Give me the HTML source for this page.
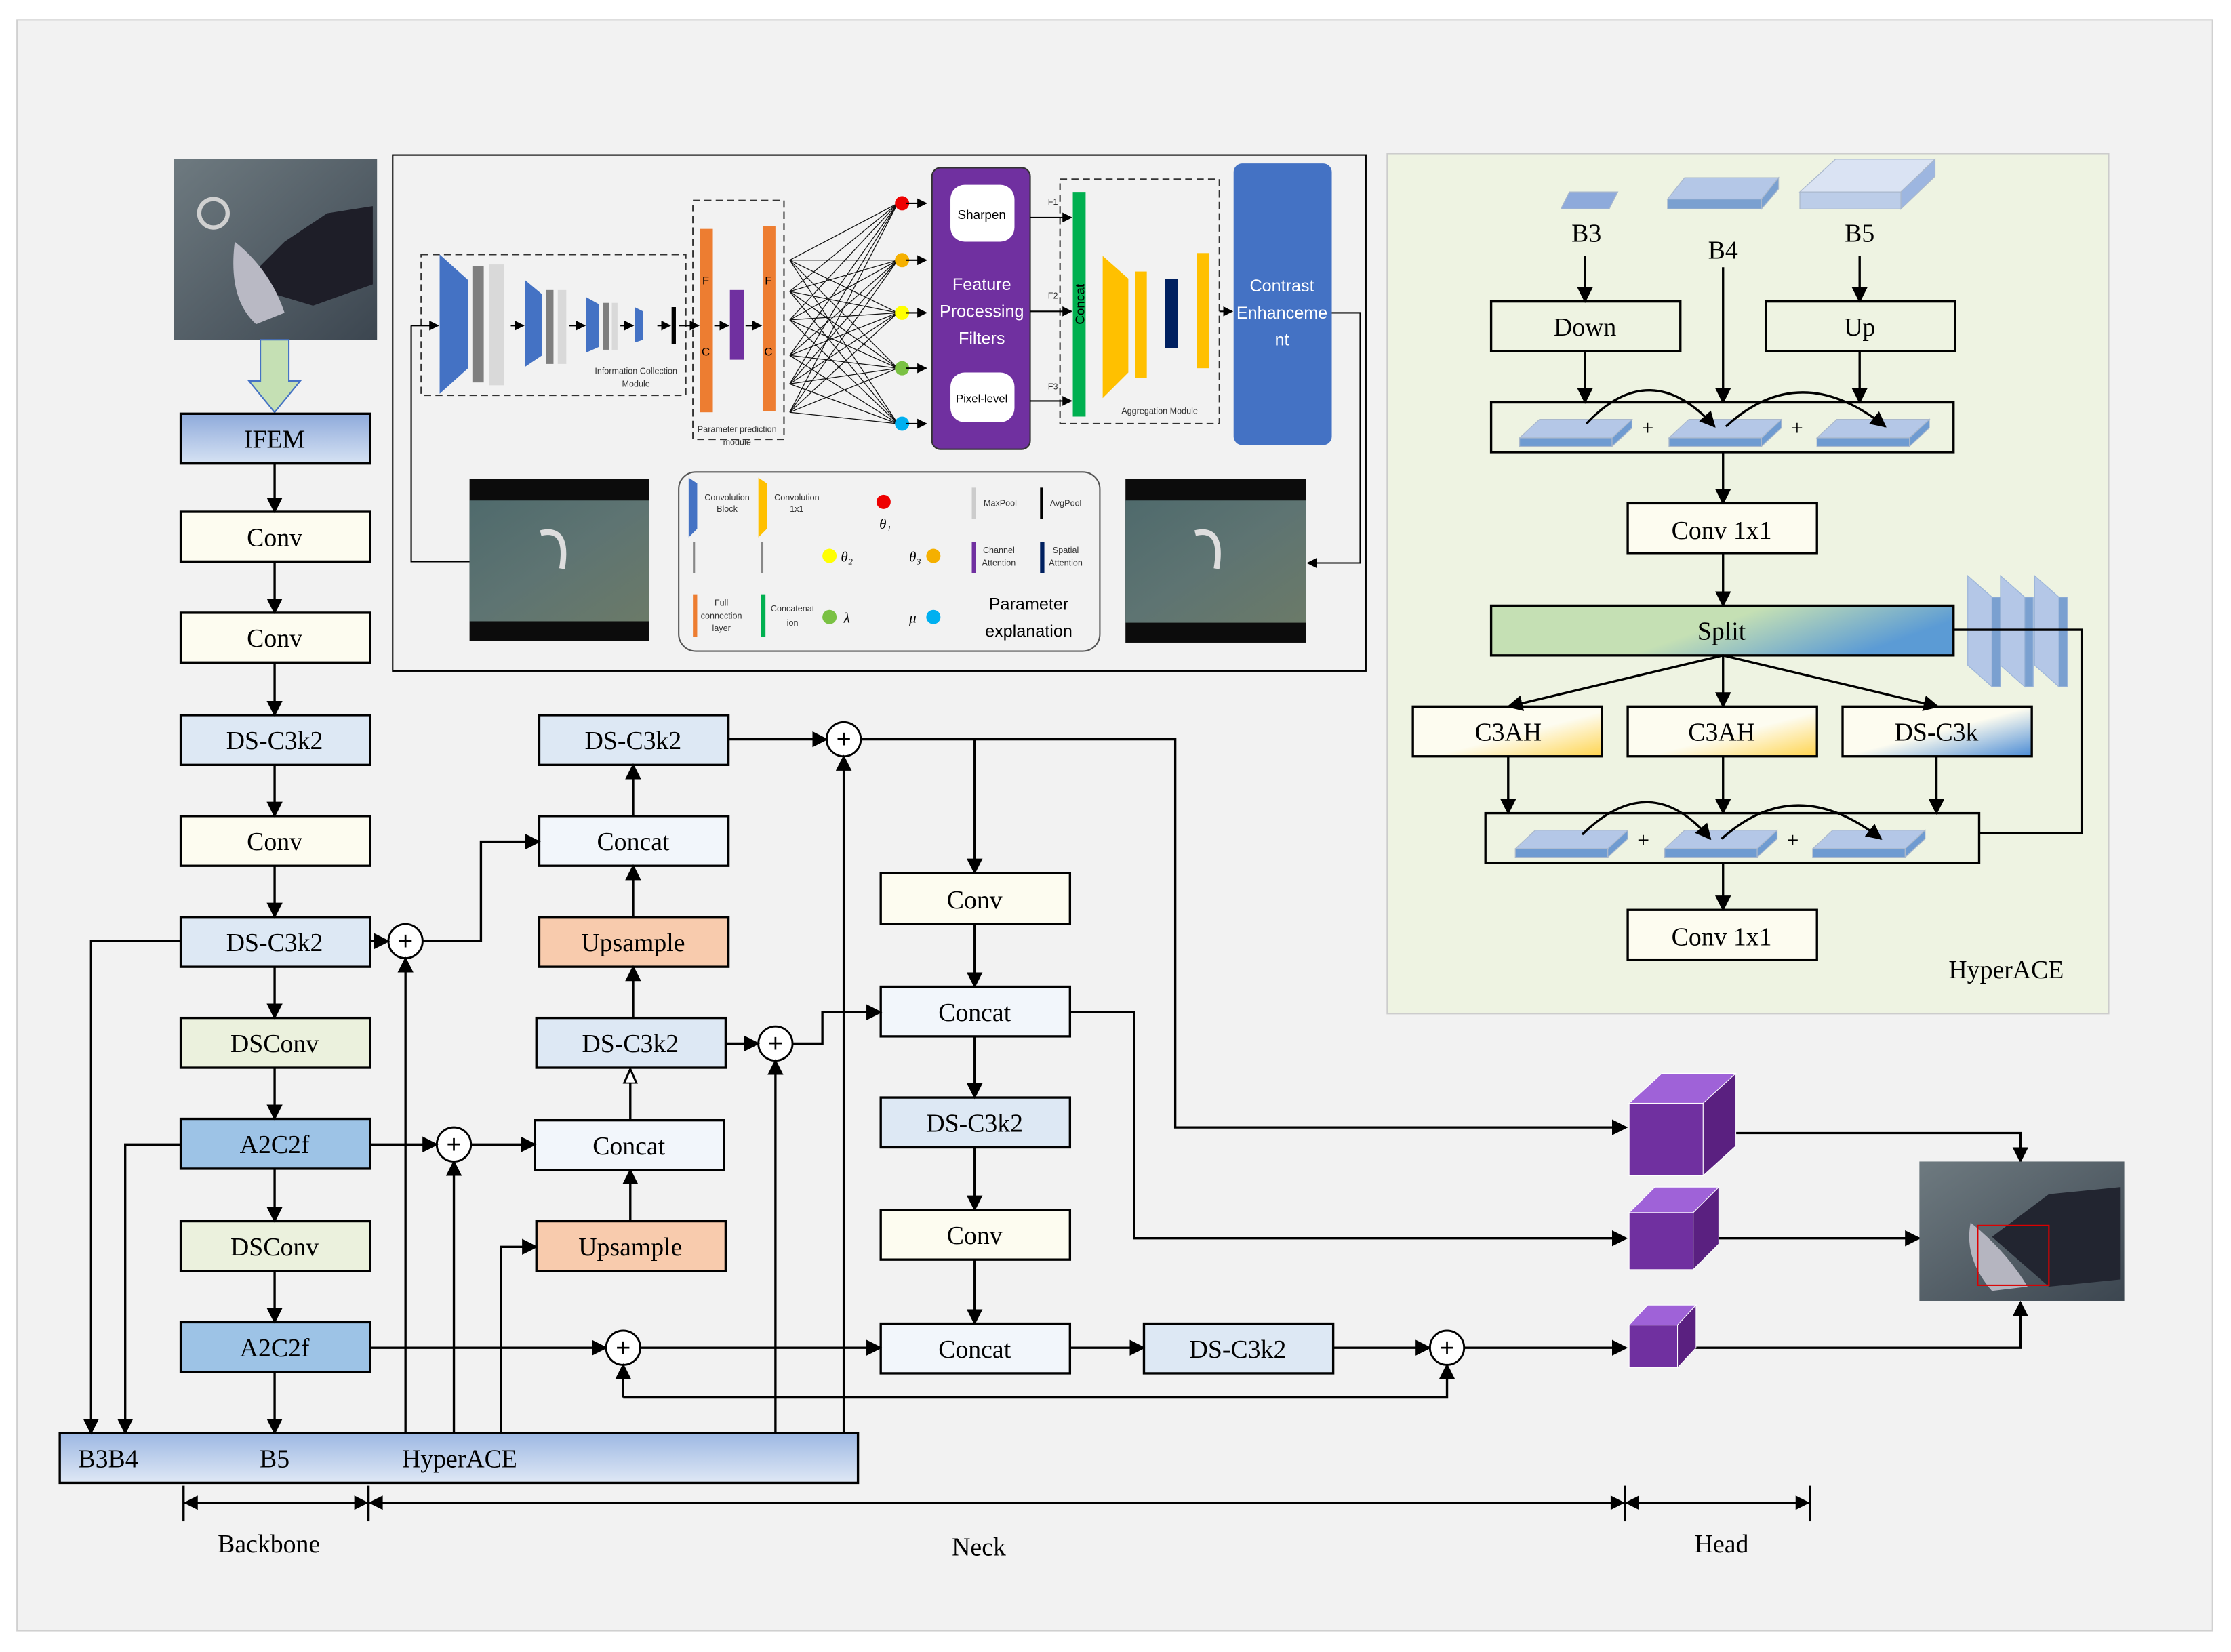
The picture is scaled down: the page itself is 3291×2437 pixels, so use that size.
<!DOCTYPE html>
<html><head><meta charset="utf-8"><style>
html,body{margin:0;padding:0;background:#fff}
svg{display:block}
text{font-family:"Liberation Serif",serif}
.s{font-family:"Liberation Sans",sans-serif}
</style></head><body>
<svg width="3291" height="2437" viewBox="0 0 1568 1162" preserveAspectRatio="none" xmlns="http://www.w3.org/2000/svg">
<defs>
<marker id="a" viewBox="0 0 10 10" refX="9" refY="5" markerWidth="7" markerHeight="7" orient="auto-start-reverse"><path d="M0,0L10,5L0,10z" fill="#000"/></marker>
<marker id="h" viewBox="0 0 10 10" refX="9" refY="5" markerWidth="7" markerHeight="7" orient="auto"><path d="M0,1L9,5L0,9z" fill="#fff" stroke="#000" stroke-width="1.3"/></marker>
<linearGradient id="gIFEM" x1="0" y1="0" x2="0" y2="1"><stop offset="0" stop-color="#8eaadb"/><stop offset="1" stop-color="#d6e2f3"/></linearGradient>
<linearGradient id="gBar" x1="0" y1="0" x2="0" y2="1"><stop offset="0" stop-color="#9db8e3"/><stop offset="1" stop-color="#dfe8f5"/></linearGradient>
<linearGradient id="gSplit" x1="0" y1="0" x2="1" y2="0.3"><stop offset="0" stop-color="#c5e0b4"/><stop offset="0.55" stop-color="#c5e0b4"/><stop offset="1" stop-color="#5b9bd5"/></linearGradient>
<linearGradient id="gY" x1="0" y1="0" x2="1" y2="1"><stop offset="0" stop-color="#fdfcf0"/><stop offset="0.55" stop-color="#fdfcf0"/><stop offset="1" stop-color="#ffd44f"/></linearGradient>
<linearGradient id="gB" x1="0" y1="0" x2="1" y2="1"><stop offset="0" stop-color="#fdfcf0"/><stop offset="0.5" stop-color="#fdfcf0"/><stop offset="1" stop-color="#4a8bd5"/></linearGradient>
<linearGradient id="gImg" x1="0" y1="0" x2="1" y2="1"><stop offset="0" stop-color="#4f6a6c"/><stop offset="0.5" stop-color="#5e7472"/><stop offset="1" stop-color="#6b7a68"/></linearGradient>
<linearGradient id="gImg2" x1="0" y1="0" x2="1" y2="1"><stop offset="0" stop-color="#6e7a80"/><stop offset="1" stop-color="#3c4650"/></linearGradient>
</defs>
<rect x="12" y="14" width="1543" height="1133" fill="#f2f2f2" stroke="#d0d0d0"/>

<!-- top-left image -->
<rect x="122" y="112" width="143" height="127" fill="url(#gImg2)"/>
<path d="M170 200 L200 170 L230 150 L262 145 L262 200 L220 215 Z" fill="#1e1e28"/>
<path d="M165 170 Q190 190 200 220 L180 228 Q160 210 165 170Z" fill="#b9b9c4"/>
<circle cx="150" cy="150" r="10" fill="none" stroke="#d0d0d0" stroke-width="3"/>
<!-- green arrow -->
<path d="M183 239 L203 239 L203 268 L211 268 L193 290 L175 268 L183 268 Z" fill="#c5e0b4" stroke="#4472c4" stroke-width="1"/>

<g stroke="#000" stroke-width="1.6">
<rect x="127" y="291" width="133" height="35" fill="url(#gIFEM)"/>
<rect x="127" y="360" width="133" height="35" fill="#fdfcf0"/>
<rect x="127" y="431" width="133" height="35" fill="#fdfcf0"/>
<rect x="127" y="503" width="133" height="35" fill="#dde8f4"/>
<rect x="127" y="574" width="133" height="35" fill="#fdfcf0"/>
<rect x="127" y="645" width="133" height="35" fill="#dde8f4"/>
<rect x="127" y="716" width="133" height="35" fill="#ebf1dd"/>
<rect x="127" y="787" width="133" height="35" fill="#9dc3e6"/>
<rect x="127" y="859" width="133" height="35" fill="#ebf1dd"/>
<rect x="127" y="930" width="133" height="35" fill="#9dc3e6"/>
<rect x="42" y="1008" width="561" height="35" fill="url(#gBar)"/>

<rect x="379" y="503" width="133" height="35" fill="#dde8f4"/>
<rect x="379" y="574" width="133" height="35" fill="#f2f6fb"/>
<rect x="379" y="645" width="133" height="35" fill="#f8cbad"/>
<rect x="377" y="716" width="133" height="35" fill="#dde8f4"/>
<rect x="376" y="788" width="133" height="35" fill="#f2f6fb"/>
<rect x="377" y="859" width="133" height="35" fill="#f8cbad"/>

<rect x="619" y="614" width="133" height="36" fill="#fdfcf0"/>
<rect x="619" y="694" width="133" height="35" fill="#f2f6fb"/>
<rect x="619" y="772" width="133" height="35" fill="#dde8f4"/>
<rect x="619" y="851" width="133" height="35" fill="#fdfcf0"/>
<rect x="619" y="931" width="133" height="35" fill="#f2f6fb"/>
<rect x="804" y="931" width="133" height="35" fill="#dde8f4"/>
</g>
<g font-size="18" text-anchor="middle">
<text x="193" y="315">IFEM</text>
<text x="193" y="384">Conv</text>
<text x="193" y="455">Conv</text>
<text x="193" y="527">DS-C3k2</text>
<text x="193" y="598">Conv</text>
<text x="193" y="669">DS-C3k2</text>
<text x="193" y="740">DSConv</text>
<text x="193" y="811">A2C2f</text>
<text x="193" y="883">DSConv</text>
<text x="193" y="954">A2C2f</text>
<text x="76" y="1032">B3B4</text>
<text x="193" y="1032">B5</text>
<text x="323" y="1032">HyperACE</text>
<text x="445" y="527">DS-C3k2</text>
<text x="445" y="598">Concat</text>
<text x="445" y="669">Upsample</text>
<text x="443" y="740">DS-C3k2</text>
<text x="442" y="812">Concat</text>
<text x="443" y="883">Upsample</text>
<text x="685" y="639">Conv</text>
<text x="685" y="718">Concat</text>
<text x="685" y="796">DS-C3k2</text>
<text x="685" y="875">Conv</text>
<text x="685" y="955">Concat</text>
<text x="870" y="955">DS-C3k2</text>
<text x="189" y="1092">Backbone</text>
<text x="688" y="1094">Neck</text>
<text x="1210" y="1092">Head</text>
</g>

<!-- plus circles -->
<g stroke="#000" stroke-width="1.4" fill="#fff">
<circle cx="285" cy="662" r="12"/><circle cx="319" cy="805" r="12"/><circle cx="545" cy="734" r="12"/>
<circle cx="593" cy="520" r="12"/><circle cx="438" cy="948" r="12"/><circle cx="1017" cy="948" r="12"/>
</g>
<g font-size="18" text-anchor="middle" font-family="Liberation Sans">
<text x="285" y="668" class="s">+</text><text x="319" y="811" class="s">+</text><text x="545" y="740" class="s">+</text>
<text x="593" y="526" class="s">+</text><text x="438" y="954" class="s">+</text><text x="1017" y="954" class="s">+</text>
</g>

<g stroke="#000" stroke-width="1.6" fill="none" marker-end="url(#a)">
<line x1="193" y1="326" x2="193" y2="360"/>
<line x1="193" y1="395" x2="193" y2="431"/>
<line x1="193" y1="466" x2="193" y2="503"/>
<line x1="193" y1="538" x2="193" y2="574"/>
<line x1="193" y1="609" x2="193" y2="645"/>
<line x1="193" y1="680" x2="193" y2="716"/>
<line x1="193" y1="751" x2="193" y2="787"/>
<line x1="193" y1="822" x2="193" y2="859"/>
<line x1="193" y1="894" x2="193" y2="930"/>
<line x1="193" y1="965" x2="193" y2="1008"/>
<polyline points="127,662 64,662 64,1008"/>
<polyline points="127,805 88,805 88,1008"/>
<line x1="260" y1="662" x2="273" y2="662"/>
<line x1="260" y1="805" x2="307" y2="805"/>
<line x1="260" y1="948" x2="426" y2="948"/>
<polyline points="297,662 338,662 338,592 379,592"/>
<line x1="331" y1="805" x2="376" y2="805"/>
<line x1="285" y1="1008" x2="285" y2="674"/>
<line x1="319" y1="1008" x2="319" y2="817"/>
<polyline points="352,1008 352,877 377,877"/>
<line x1="545" y1="1008" x2="545" y2="746"/>
<line x1="593" y1="1008" x2="593" y2="532"/>
<line x1="438" y1="983" x2="438" y2="960"/>
<polyline points="438,983 1017,983 1017,960"/>
<line x1="443" y1="859" x2="443" y2="823"/>
<line x1="445" y1="645" x2="445" y2="609"/>
<line x1="445" y1="574" x2="445" y2="538"/>
<line x1="445" y1="716" x2="445" y2="680"/>
<line x1="512" y1="520" x2="581" y2="520"/>
<line x1="510" y1="734" x2="533" y2="734"/>
<polyline points="557,734 578,734 578,712 619,712"/>
<polyline points="605,520 826,520 826,793 1143,793"/>
<polyline points="685,520 685,614"/>
<line x1="685" y1="650" x2="685" y2="694"/>
<line x1="685" y1="729" x2="685" y2="772"/>
<line x1="685" y1="807" x2="685" y2="851"/>
<line x1="685" y1="886" x2="685" y2="931"/>
<line x1="450" y1="948" x2="619" y2="948"/>
<line x1="752" y1="948" x2="804" y2="948"/>
<line x1="937" y1="948" x2="1005" y2="948"/>
<line x1="1029" y1="948" x2="1143" y2="948"/>
<polyline points="752,712 797,712 797,871 1143,871"/>
<polyline points="1218,797 1420,797 1420,817"/>
<line x1="1206" y1="871" x2="1349" y2="871"/>
<polyline points="1190,948 1420,948 1420,916"/>
</g>
<line x1="443" y1="788" x2="443" y2="752" stroke="#000" stroke-width="1.6" marker-end="url(#h)"/>

<!-- scale line -->
<g stroke="#000" stroke-width="1.6">
<line x1="129" y1="1057" x2="1272" y2="1057"/>
<line x1="129" y1="1045" x2="129" y2="1070"/><line x1="259" y1="1045" x2="259" y2="1070"/>
<line x1="1142" y1="1045" x2="1142" y2="1070"/><line x1="1272" y1="1045" x2="1272" y2="1070"/>
</g>
<g fill="#000"><path d="M129 1057l10-5v10z"/><path d="M259 1057l-10-5v10z"/><path d="M259 1057l10-5v10z"/><path d="M1142 1057l-10-5v10z"/><path d="M1142 1057l10-5v10z"/><path d="M1272 1057l-10-5v10z"/></g>

<!-- cubes -->
<g stroke="#fff" stroke-width="0.5">
<path d="M1145 776 L1168 755 L1220 755 L1197 776Z" fill="#9f62d8"/><rect x="1145" y="776" width="52" height="51" fill="#7030a0"/><path d="M1197 776 L1220 755 L1220 806 L1197 827Z" fill="#5a2080"/>
<path d="M1145 853 L1163 835 L1208 835 L1190 853Z" fill="#9f62d8"/><rect x="1145" y="853" width="45" height="40" fill="#7030a0"/><path d="M1190 853 L1208 835 L1208 875 L1190 893Z" fill="#5a2080"/>
<path d="M1145 932 L1158 918 L1192 918 L1179 932Z" fill="#9f62d8"/><rect x="1145" y="932" width="34" height="30" fill="#7030a0"/><path d="M1179 932 L1192 918 L1192 948 L1179 962Z" fill="#5a2080"/>
</g>
<!-- output image -->
<rect x="1349" y="817" width="144" height="98" fill="url(#gImg2)"/>
<path d="M1400 870 L1440 840 L1490 835 L1490 900 L1440 905Z" fill="#222530"/>
<path d="M1385 860 Q1410 880 1425 905 L1400 908 Q1380 885 1385 860Z" fill="#b5b5c0"/>
<rect x="1390" y="862" width="50" height="42" fill="none" stroke="#d00" stroke-width="1"/>

<!-- top center panel -->
<rect x="276" y="109" width="684" height="363" fill="#f2f2f2" stroke="#000" stroke-width="1"/>
<g stroke="#333" stroke-width="1" stroke-dasharray="5,3" fill="none">
<rect x="296" y="179" width="186" height="99"/><rect x="487" y="141" width="64" height="168"/><rect x="745" y="126" width="112" height="172"/>
</g>
<g fill="#4472c4">
<path d="M309 179 L329 197 L329 259 L309 277Z"/><path d="M369 197 L381 207 L381 250 L369 258Z"/><path d="M412 209 L421 214 L421 244 L412 248Z"/><path d="M446 216 L452 219 L452 239 L446 241Z"/>
</g>
<g fill="#7f7f7f"><rect x="332" y="187" width="8" height="82"/><rect x="384" y="204" width="5" height="52"/><rect x="424" y="213" width="4" height="33"/></g>
<g fill="#d9d9d9"><rect x="344" y="186" width="10" height="85"/><rect x="392" y="204" width="6" height="52"/><rect x="430" y="213" width="4" height="33"/></g>
<rect x="472" y="216" width="3" height="26" fill="#000"/>
<g stroke="#000" stroke-width="1" fill="none" marker-end="url(#a)">
<line x1="289" y1="229" x2="308" y2="229"/><line x1="359" y1="229" x2="368" y2="229"/><line x1="400" y1="229" x2="411" y2="229"/><line x1="436" y1="229" x2="445" y2="229"/><line x1="462" y1="229" x2="471" y2="229"/>
<line x1="477" y1="229" x2="491" y2="229"/><line x1="502" y1="229" x2="512" y2="229"/><line x1="524" y1="229" x2="535" y2="229"/>
</g>
<rect x="492" y="161" width="9" height="129" fill="#ed7d31"/><rect x="536" y="159" width="9" height="130" fill="#ed7d31"/><rect x="513" y="204" width="10" height="49" fill="#7030a0"/>
<g font-size="8" class="s" text-anchor="middle"><text x="496" y="200" class="s">F</text><text x="496" y="250" class="s">C</text><text x="540" y="200" class="s">F</text><text x="540" y="250" class="s">C</text></g>
<g font-size="6" class="s" text-anchor="middle" fill="#333">
<text x="447" y="263" class="s">Information Collection</text><text x="447" y="272" class="s">Module</text>
<text x="518" y="304" class="s">Parameter prediction</text><text x="518" y="313" class="s">module</text>
<text x="815" y="291" class="s">Aggregation Module</text>
<text x="740" y="144" class="s">F1</text><text x="740" y="210" class="s">F2</text><text x="740" y="274" class="s">F3</text>
</g>
<g stroke="#111" stroke-width="0.6">
<path d="M555 183L631 143M555 183L631 183M555 183L631 220M555 183L631 259M555 183L631 298M555 205L631 143M555 205L631 183M555 205L631 220M555 205L631 259M555 205L631 298M555 225L631 143M555 225L631 183M555 225L631 220M555 225L631 259M555 225L631 298M555 250L631 143M555 250L631 183M555 250L631 220M555 250L631 259M555 250L631 298M555 270L631 143M555 270L631 183M555 270L631 220M555 270L631 259M555 270L631 298M555 290L631 143M555 290L631 183M555 290L631 220M555 290L631 259M555 290L631 298"/>
</g>
<circle cx="634" cy="143" r="5" fill="#e00"/><circle cx="634" cy="183" r="5" fill="#f5b000"/><circle cx="634" cy="220" r="5" fill="#ff0"/><circle cx="634" cy="259" r="5" fill="#7ac143"/><circle cx="634" cy="298" r="5" fill="#00b0f0"/>
<rect x="655" y="118" width="69" height="198" rx="6" fill="#7030a0" stroke="#333"/>
<rect x="668" y="130" width="45" height="40" rx="10" fill="#fff"/><rect x="668" y="262" width="45" height="35" rx="10" fill="#fff"/>
<g class="s" text-anchor="middle"><text x="690" y="154" font-size="9" class="s">Sharpen</text><text x="690" y="283" font-size="8" class="s">Pixel-level</text>
<text x="690" y="204" font-size="12" fill="#fff" class="s">Feature</text><text x="690" y="223" font-size="12" fill="#fff" class="s">Processing</text><text x="690" y="242" font-size="12" fill="#fff" class="s">Filters</text></g>
<g stroke="#000" stroke-width="1" fill="none" marker-end="url(#a)"><line x1="724" y1="153" x2="753" y2="153"/><line x1="724" y1="219" x2="753" y2="219"/><line x1="724" y1="282" x2="753" y2="282"/>
<line x1="637" y1="143" x2="651" y2="143"/><line x1="637" y1="183" x2="651" y2="183"/><line x1="637" y1="220" x2="651" y2="220"/><line x1="637" y1="259" x2="651" y2="259"/><line x1="637" y1="298" x2="651" y2="298"/>
<line x1="857" y1="219" x2="866" y2="219"/></g>
<rect x="754" y="135" width="9" height="158" fill="#00b050"/>
<text x="762" y="214" font-size="9" class="s" transform="rotate(-90 762 214)" text-anchor="middle">Concat</text>
<path d="M775 180 L793 196 L793 262 L775 280Z" fill="#ffc000"/><rect x="798" y="191" width="8" height="75" fill="#ffc000"/><rect x="819" y="196" width="9" height="49" fill="#002060"/><rect x="841" y="178" width="9" height="81" fill="#ffc000"/>
<rect x="867" y="115" width="69" height="198" rx="6" fill="#4472c4"/>
<g class="s" text-anchor="middle" fill="#fff" font-size="12"><text x="901" y="205" class="s">Contrast</text><text x="901" y="224" class="s">Enhanceme</text><text x="901" y="243" class="s">nt</text></g>
<polyline points="289,229 289,395 330,395" fill="none" stroke="#000" stroke-width="1"/>
<polyline points="936,220 956,220 956,396 919,396" fill="none" stroke="#000" stroke-width="1" marker-end="url(#a)"/>
<rect x="330" y="337" width="126" height="114" fill="#0c0c0c"/><rect x="330" y="352" width="126" height="85" fill="url(#gImg)"/>
<rect x="791" y="337" width="127" height="115" fill="#0c0c0c"/><rect x="791" y="352" width="127" height="86" fill="url(#gImg)"/>
<path d="M380 375 Q400 370 395 400" stroke="#ddd" stroke-width="4" fill="none"/><path d="M840 375 Q860 370 855 400" stroke="#ddd" stroke-width="4" fill="none"/>
<!-- legend -->
<rect x="477" y="332" width="296" height="126" rx="12" fill="#f2f2f2" stroke="#555" stroke-width="1"/>
<path d="M484 336 L490 340 L490 372 L484 378Z" fill="#4472c4"/><path d="M533 336 L539 340 L539 372 L533 378Z" fill="#ffc000"/>
<circle cx="621" cy="353" r="5" fill="#e00"/><rect x="683" y="343" width="3" height="22" fill="#ccc"/><rect x="731" y="343" width="2" height="22" fill="#000"/>
<rect x="487" y="381" width="1.5" height="22" fill="#888"/><rect x="535" y="381" width="1.5" height="22" fill="#888"/>
<circle cx="583" cy="391" r="5" fill="#ff0"/><circle cx="656" cy="391" r="5" fill="#f5b000"/>
<rect x="683" y="381" width="3" height="22" fill="#7030a0"/><rect x="731" y="381" width="3" height="22" fill="#002060"/>
<rect x="487" y="418" width="3" height="30" fill="#ed7d31"/><rect x="535" y="418" width="3" height="30" fill="#00b050"/>
<circle cx="583" cy="434" r="5" fill="#7ac143"/><circle cx="656" cy="434" r="5" fill="#00b0f0"/>
<g class="s" font-size="6" text-anchor="middle" fill="#333">
<text x="511" y="352" class="s">Convolution</text><text x="511" y="360" class="s">Block</text>
<text x="560" y="352" class="s">Convolution</text><text x="560" y="360" class="s">1x1</text>
<text x="703" y="356" class="s">MaxPool</text><text x="749" y="356" class="s">AvgPool</text>
<text x="702" y="389" class="s">Channel</text><text x="702" y="398" class="s">Attention</text>
<text x="749" y="389" class="s">Spatial</text><text x="749" y="398" class="s">Attention</text>
<text x="507" y="426" class="s">Full</text><text x="507" y="435" class="s">connection</text><text x="507" y="444" class="s">layer</text>
<text x="557" y="430" class="s">Concatenat</text><text x="557" y="440" class="s">ion</text>
</g>
<g font-size="10" font-style="italic"><text x="618" y="372">θ₁</text><text x="591" y="395">θ₂</text><text x="639" y="395">θ₃</text><text x="593" y="438">λ</text><text x="639" y="438">μ</text></g>
<g class="s" font-size="12" text-anchor="middle"><text x="723" y="429" class="s">Parameter</text><text x="723" y="448" class="s">explanation</text></g>

<!-- HyperACE panel -->
<rect x="975" y="108" width="507" height="605" fill="#eef3e2" stroke="#ccc"/>
<g stroke="#aab8cc" stroke-width="0.6">
<path d="M1097 147 L1103 135 L1137 135 L1131 147Z" fill="#8eaadb"/>
<path d="M1172 140 L1184 125 L1250 125 L1238 140Z" fill="#b4c7e7"/><rect x="1172" y="140" width="66" height="7" fill="#7aa0d0"/><path d="M1238 140L1250 125L1250 133L1238 147Z" fill="#7aa0d0"/>
<path d="M1265 135 L1290 112 L1360 112 L1336 135Z" fill="#dae3f3"/><rect x="1265" y="135" width="71" height="12" fill="#bccde8"/><path d="M1336 135L1360 112L1360 124L1336 147Z" fill="#9db6e0"/>
</g>
<g font-size="18" text-anchor="middle"><text x="1115" y="170">B3</text><text x="1211" y="182">B4</text><text x="1307" y="170">B5</text></g>
<g stroke="#000" stroke-width="1.6">
<rect x="1048" y="212" width="133" height="35" fill="none"/><rect x="1241" y="212" width="133" height="35" fill="none"/>
<rect x="1048" y="283" width="325" height="35" fill="none"/>
<rect x="1144" y="354" width="133" height="35" fill="#fdfcf0"/>
<rect x="1048" y="426" width="325" height="35" fill="url(#gSplit)"/>
<rect x="993" y="497" width="133" height="35" fill="url(#gY)"/>
<rect x="1144" y="497" width="133" height="35" fill="url(#gY)"/>
<rect x="1295" y="497" width="133" height="35" fill="url(#gB)"/>
<rect x="1044" y="572" width="347" height="35" fill="none"/>
<rect x="1144" y="640" width="133" height="35" fill="#fdfcf0"/>
</g>
<g font-size="18" text-anchor="middle">
<text x="1114" y="236">Down</text><text x="1307" y="236">Up</text><text x="1210" y="379">Conv 1x1</text><text x="1210" y="450">Split</text>
<text x="1060" y="521">C3AH</text><text x="1210" y="521">C3AH</text><text x="1361" y="521">DS-C3k</text><text x="1210" y="665">Conv 1x1</text>
<text x="1410" y="688">HyperACE</text>
<text x="1158" y="306" font-size="15">+</text><text x="1263" y="306" font-size="15">+</text>
<text x="1155" y="596" font-size="15">+</text><text x="1260" y="596" font-size="15">+</text>
</g>
<g stroke="#aab8cc" stroke-width="0.6">
<g id="sl"><path d="M1068 308 L1082 295 L1147 295 L1133 308Z" fill="#b4c7e7"/><rect x="1068" y="308" width="65" height="6" fill="#6f9bd1"/><path d="M1133 308L1147 295L1147 301L1133 314Z" fill="#6f9bd1"/></g>
<use href="#sl" x="105"/><use href="#sl" x="209"/>
<use href="#sl" x="-3" y="289"/><use href="#sl" x="102" y="289"/><use href="#sl" x="206" y="289"/>
</g>
<g stroke="#9db6d9" stroke-width="0.6" fill="#b4c7e7">
<path d="M1383 405 L1400 420 L1400 483 L1383 468Z"/><rect x="1400" y="420" width="6" height="63" fill="#7aa0d0"/>
<path d="M1406 405 L1423 420 L1423 483 L1406 468Z"/><rect x="1423" y="420" width="6" height="63" fill="#7aa0d0"/>
<path d="M1430 405 L1447 420 L1447 483 L1430 468Z"/><rect x="1447" y="420" width="6" height="63" fill="#7aa0d0"/>
</g>
<g stroke="#000" stroke-width="1.6" fill="none" marker-end="url(#a)">
<line x1="1114" y1="180" x2="1114" y2="212"/><line x1="1307" y1="180" x2="1307" y2="212"/>
<line x1="1114" y1="247" x2="1114" y2="283"/><line x1="1211" y1="188" x2="1211" y2="283"/><line x1="1307" y1="247" x2="1307" y2="283"/>
<line x1="1211" y1="318" x2="1211" y2="354"/><line x1="1211" y1="389" x2="1211" y2="426"/>
<line x1="1211" y1="461" x2="1060" y2="497"/><line x1="1211" y1="461" x2="1211" y2="497"/><line x1="1211" y1="461" x2="1362" y2="497"/>
<line x1="1060" y1="532" x2="1060" y2="572"/><line x1="1211" y1="532" x2="1211" y2="572"/><line x1="1361" y1="532" x2="1361" y2="572"/>
<line x1="1211" y1="607" x2="1211" y2="640"/>
<path d="M1115 298 Q1160 250 1205 300"/><path d="M1213 300 Q1265 252 1325 300"/>
<path d="M1112 587 Q1160 540 1202 590"/><path d="M1210 590 Q1262 543 1322 590"/>
</g>
<polyline points="1373,443 1463,443 1463,586 1391,586" fill="none" stroke="#000" stroke-width="1.6"/>
</svg>
</body></html>
